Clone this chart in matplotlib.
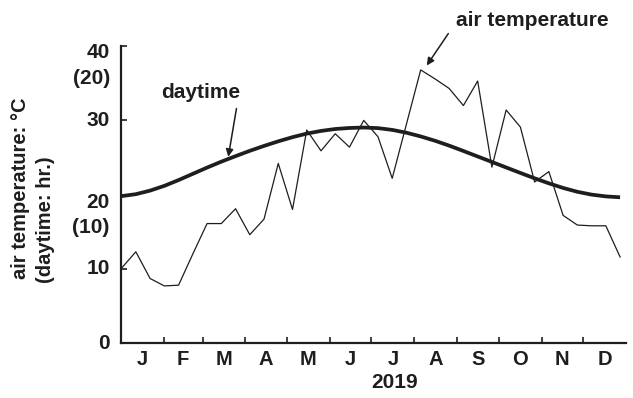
import matplotlib
matplotlib.use('Agg')
import matplotlib.pyplot as plt
import matplotlib.transforms as mtransforms
import numpy as np

plt.rcParams['font.family'] = ['Liberation Sans', 'DejaVu Sans']
plt.rcParams['font.weight'] = 'bold'

# 10-day mean air temperature (deg C), Jan-Dec 2019
air_temp = [10.1, 12.3, 8.7, 7.7, 7.8, 12.0, 16.1, 16.1, 18.1, 14.6, 16.7, 24.2,
            18.0, 28.7, 25.9, 28.2, 26.4, 30.0, 27.8, 22.2, 29.5, 36.8, 35.6, 34.3,
            32.0, 35.3, 23.7, 31.4, 29.1, 21.7, 23.1, 17.2, 15.9, 15.8, 15.8, 11.6]
# day length (hr) for the same periods
daytime_hr = [9.90, 10.03, 10.27, 10.59, 10.98, 11.40, 11.82, 12.22, 12.59, 12.95, 13.28, 13.59,
              13.87, 14.11, 14.29, 14.42, 14.49, 14.52, 14.48, 14.36, 14.17, 13.92, 13.63, 13.30,
              12.94, 12.57, 12.20, 11.83, 11.46, 11.10, 10.76, 10.45, 10.19, 10.00, 9.88, 9.82]
months = ['J', 'F', 'M', 'A', 'M', 'J', 'J', 'A', 'S', 'O', 'N', 'D']
month_len = [31, 28, 31, 30, 31, 30, 31, 31, 30, 31, 30, 31]
temp_ticks = [0, 10, 20, 30, 40]
temp_labels = ['0', '10', '20', '30', '40']
hr_labels = ['(10)', '(20)']

ink = '#1e1e1e'
fs = 15
month_start = np.concatenate([[0], np.cumsum(month_len)])
month_mid = (month_start[:-1] + month_start[1:]) / 2
days = np.linspace(0.5, 360.7, len(air_temp))

fig = plt.figure(figsize=(6.33, 3.98), dpi=100)
ax = fig.add_axes([0.191, 0.138, 0.798, 0.746])
ax2 = ax.twinx()

ax.plot(days, air_temp, color=ink, lw=0.9)
ax2.plot(days, daytime_hr, color=ink, lw=2.7, solid_capstyle='butt')

ax.set_xlim(0, 365)
ax.set_ylim(0, 40)
ax2.set_ylim(0, 20)

for s in ['top', 'right']:
    ax.spines[s].set_visible(False)
for s in ax2.spines.values():
    s.set_visible(False)
ax2.set_yticks([])
for s in ['left', 'bottom']:
    ax.spines[s].set_linewidth(1.6)
    ax.spines[s].set_color(ink)

ax.set_yticks(temp_ticks)
ax.set_yticklabels([])
ax.tick_params(axis='y', direction='in', length=4, width=1.2, color=ink)
ax.set_xticks(month_start[1:-1])
ax.set_xticklabels([])
ax.tick_params(axis='x', direction='in', length=4, width=1.2, color=ink)

# tick labels: temperature, with the day-length scale under 40 and 20
trans = mtransforms.blended_transform_factory(ax.transAxes, ax.transData)
label_y = {'0': -0.1, '10': 0.0, '20': -1.0, '30': 0.0, '40': -0.9}
for t, lab in zip(temp_ticks, temp_labels):
    ax.text(-0.022, t + label_y[lab], lab, transform=trans, ha='right',
            va='center', fontsize=fs, fontweight='bold', color=ink)
for h, lab in zip([10, 20], hr_labels):
    ax.text(-0.022, 2 * h - 4.4, lab, transform=trans, ha='right',
            va='center', fontsize=fs, fontweight='bold', color=ink)

for m, lab in zip(month_mid, months):
    ax.text(m, -2.2, lab, ha='center', va='center', fontsize=14.5,
            fontweight='bold', color=ink)
ax.text(198, -5.3, '2019', ha='center', va='center', fontsize=fs,
        fontweight='bold', color=ink)

fig.text(0.032, 0.30, 'air temperature: °C', rotation=90, ha='center',
         va='bottom', fontsize=14.5, fontweight='bold', color=ink)
fig.text(0.072, 0.29, '(daytime: hr.)', rotation=90, ha='center',
         va='bottom', fontsize=14.5, fontweight='bold', color=ink)

ax.annotate('', xy=(77.6, 25.1), xytext=(83.5, 31.6),
            arrowprops=dict(arrowstyle='-|>', color=ink, lw=1.1,
                            mutation_scale=11, shrinkA=0, shrinkB=0))
ax.text(58, 33.7, 'daytime', ha='center', va='center', fontsize=fs,
        fontweight='bold', color=ink)
ax.annotate('', xy=(221, 37.4), xytext=(236.6, 41.7), annotation_clip=False,
            arrowprops=dict(arrowstyle='-|>', color=ink, lw=1.1,
                            mutation_scale=11, shrinkA=0, shrinkB=0))
ax.text(297, 43.5, 'air temperature', ha='center', va='center', fontsize=fs,
        fontweight='bold', color=ink, clip_on=False)

fig.savefig('out.png', dpi=100)
